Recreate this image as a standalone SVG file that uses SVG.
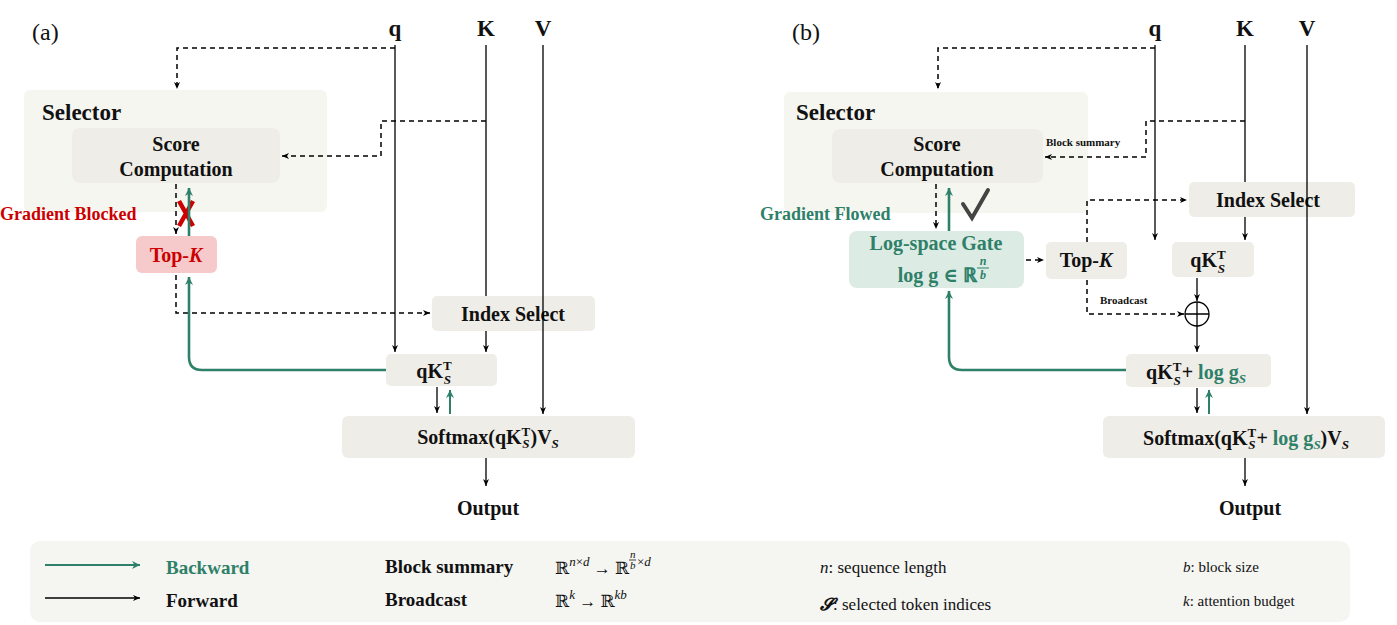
<svg xmlns="http://www.w3.org/2000/svg" width="1397" height="625" viewBox="0 0 1397 625">
<defs>
<marker id="ab" markerWidth="8" markerHeight="8" refX="7" refY="4" orient="auto" markerUnits="userSpaceOnUse"><path d="M0,1 L7,4 L0,7 L2,4 Z" fill="#000"/></marker>
<marker id="ag" markerWidth="10" markerHeight="10" refX="8" refY="5" orient="auto" markerUnits="userSpaceOnUse"><path d="M0,1 L8,5 L0,9 L2.5,5 Z" fill="#2e8068"/></marker>
<style>
text{font-family:"Liberation Serif","DejaVu Serif",serif;font-weight:bold;fill:#111}
.t{font-size:20px;text-anchor:middle}
.h{font-size:23px}
.g{fill:#2e8068}
.r{fill:#cc0000}
.s{font-size:11px}
.n{font-weight:normal;font-size:17px}
.box{fill:#efede7}
.f{fill:none;stroke:#000;stroke-width:1.3}
.d{fill:none;stroke:#000;stroke-width:1.5;stroke-dasharray:5,4}
.gr{fill:none;stroke:#2e8068;stroke-width:2.6}
</style>
</defs>
<rect x="30" y="541" width="1320" height="81" rx="10" fill="#f5f5f2"/>
<g id="panel-a">
<text x="32" y="40" style="font-weight:normal;font-size:24px">(a)</text>
<text x="395" y="36" class="h" text-anchor="middle">q</text>
<text x="486" y="36" class="h" text-anchor="middle">K</text>
<text x="543" y="36" class="h" text-anchor="middle">V</text>
<g id="selector-a"><rect x="24" y="90" width="303" height="122" rx="6" fill="#f6f6f1"/><text x="42" y="120" class="h">Selector</text></g>
<g id="score-a"><rect class="box" x="72" y="128" width="208" height="55" rx="8"/><text class="t" x="176" y="151">Score</text><text class="t" x="176" y="176">Computation</text></g>
<g id="topk-a"><rect x="136" y="236" width="81" height="37" rx="6" fill="#f6caca"/><text class="t r" x="176" y="262">Top-<tspan font-style="italic">K</tspan></text></g>
<g id="index-a"><rect class="box" x="432" y="296" width="163" height="35" rx="5"/><text class="t" x="513" y="321">Index  Select</text></g>
<g id="qk-a"><rect class="box" x="386" y="354" width="111" height="32" rx="5"/><text class="t" x="434" y="378">qK<tspan font-size="13" dy="-8">T</tspan><tspan font-size="13" font-style="italic" dx="-8" dy="14">S</tspan></text></g>
<g id="softmax-a"><rect class="box" x="342" y="416" width="293" height="42" rx="6"/><text class="t" x="488" y="444">Softmax(qK<tspan font-size="13" dy="-8">T</tspan><tspan font-size="13" font-style="italic" dx="-8" dy="12">S</tspan><tspan dx="1" dy="-4">)V</tspan><tspan font-size="13" font-style="italic" dy="4">S</tspan></text></g>
<g id="output-a"><text class="t" x="488" y="515">Output</text></g>
<text x="0" y="220" class="r" style="font-size:18px">Gradient  Blocked</text>
<path d="M179,201 L193,226 M193,201 L179,226" stroke="#cc0000" stroke-width="4.5" fill="none"/>
</g>
<g id="panel-b">
<text x="792" y="40" style="font-weight:normal;font-size:24px">(b)</text>
<text x="1155" y="36" class="h" text-anchor="middle">q</text>
<text x="1245" y="36" class="h" text-anchor="middle">K</text>
<text x="1307" y="36" class="h" text-anchor="middle">V</text>
<g id="selector-b"><rect x="784" y="92" width="304" height="121" rx="6" fill="#f6f6f1"/><text x="796" y="120" class="h">Selector</text></g>
<g id="score-b"><rect class="box" x="832" y="129" width="211" height="54" rx="8"/><text class="t" x="937" y="151">Score</text><text class="t" x="937" y="176">Computation</text></g>
<g id="gate-b"><rect x="849" y="231" width="175" height="57" rx="8" fill="#dcebe4"/><text class="t g" x="936" y="250">Log-space Gate</text><text class="g" style="font-size:20px;text-anchor:end" x="977" y="282">log g ∈ ℝ</text><text class="g" style="font-size:12px;font-style:italic;text-anchor:middle" x="983" y="265">n</text><line x1="977" y1="268" x2="989" y2="268" stroke="#2e8068" stroke-width="1"/><text class="g" style="font-size:12px;font-style:italic;text-anchor:middle" x="983" y="279">b</text></g>
<g id="topk-b"><rect class="box" x="1046" y="242" width="81" height="37" rx="5"/><text class="t" x="1086" y="267">Top-<tspan font-style="italic">K</tspan></text></g>
<g id="index-b"><rect class="box" x="1189" y="182" width="166" height="35" rx="5"/><text class="t" x="1268" y="207">Index  Select</text></g>
<g id="qk-b"><rect class="box" x="1172" y="242" width="82" height="35" rx="5"/><text class="t" x="1208" y="267">qK<tspan font-size="13" dy="-8">T</tspan><tspan font-size="13" font-style="italic" dx="-8" dy="14">S</tspan></text></g>
<g id="plus-b"><circle cx="1197" cy="314" r="12" fill="none" stroke="#000" stroke-width="1.3"/><path d="M1185,314 H1209 M1197,302 V326" stroke="#000" stroke-width="1.3"/></g>
<g id="qklog-b"><rect class="box" x="1126" y="354" width="145" height="33" rx="5"/><text class="t" x="1196" y="379">qK<tspan font-size="13" dy="-8">T</tspan><tspan font-size="13" font-style="italic" dx="-8" dy="14">S</tspan><tspan dx="1" dy="-6">+ </tspan><tspan class="g">log g<tspan font-size="13" font-style="italic" dy="4">S</tspan></tspan></text></g>
<g id="softmax-b"><rect class="box" x="1103" y="416" width="282" height="42" rx="6"/><text class="t" x="1246" y="445">Softmax(qK<tspan font-size="13" dy="-8">T</tspan><tspan font-size="13" font-style="italic" dx="-8" dy="12">S</tspan><tspan dx="1" dy="-4">+ </tspan><tspan class="g">log g<tspan font-size="13" font-style="italic" dy="4">S</tspan></tspan><tspan dy="-4">)V</tspan><tspan font-size="13" font-style="italic" dy="4">S</tspan></text></g>
<g id="output-b"><text class="t" x="1250" y="515">Output</text></g>
<text x="760" y="220" class="g" style="font-size:18px">Gradient  Flowed</text>
<path d="M963,204 L972,218 L988,190" stroke="#444" stroke-width="4" fill="none" stroke-linecap="round"/>
<text x="1046" y="146" class="s">Block summary</text>
<text x="1100" y="304" class="s">Broadcast</text>
</g>
<g id="connectors">
<path class="f" d="M395,45 V352" marker-end="url(#ab)"/>
<path class="f" d="M486,45 V296 M486,331 V352" marker-end="url(#ab)"/>
<path class="f" d="M543,45 V414" marker-end="url(#ab)"/>
<path class="d" d="M395,48 H177 V89" marker-end="url(#ab)"/>
<path class="d" d="M486,121 H381 V156 H282" marker-end="url(#ab)"/>
<path class="d" d="M176,184 V234" marker-end="url(#ab)"/>
<path class="d" d="M176,275 V313 H430" marker-end="url(#ab)"/>
<path class="gr" d="M189,236 V188" marker-end="url(#ag)"/>
<path class="gr" d="M386,370 H202 Q189,370 189,357 V277" marker-end="url(#ag)"/>
<path class="f" d="M437,387 V413" marker-end="url(#ab)"/>
<path class="gr" style="stroke-width:2" d="M450,414 V390" marker-end="url(#ag)"/>
<path class="f" d="M486,458 V486" marker-end="url(#ab)"/>
<path class="f" d="M1155,45 V240" marker-end="url(#ab)"/>
<path class="f" d="M1245,45 V182 M1245,217 V240" marker-end="url(#ab)"/>
<path class="f" d="M1307,45 V414" marker-end="url(#ab)"/>
<path class="d" d="M1155,48 H938 V89" marker-end="url(#ab)"/>
<path class="d" d="M1245,121 H1146 V157 H1045" marker-end="url(#ab)"/>
<path class="d" d="M936,184 V229" marker-end="url(#ab)"/>
<path class="gr" d="M949,231 V188" marker-end="url(#ag)"/>
<path class="d" d="M1026,260 H1044" marker-end="url(#ab)"/>
<path class="d" d="M1087,242 V200 H1187" marker-end="url(#ab)"/>
<path class="d" d="M1087,280 V314 H1184" marker-end="url(#ab)"/>
<path class="f" d="M1197,278 V301" marker-end="url(#ab)"/>
<path class="f" d="M1197,326 V352" marker-end="url(#ab)"/>
<path class="gr" d="M1126,370 H962 Q949,370 949,357 V291" marker-end="url(#ag)"/>
<path class="f" d="M1197,388 V413" marker-end="url(#ab)"/>
<path class="gr" style="stroke-width:2" d="M1209,414 V390" marker-end="url(#ag)"/>
<path class="f" d="M1245,458 V486" marker-end="url(#ab)"/>
</g>
<g id="legend">
<path d="M45,565 H140" stroke="#2e8068" stroke-width="2" marker-end="url(#ag)"/>
<path d="M45,598 H140" stroke="#000" stroke-width="1.5" marker-end="url(#ab)"/>
<text x="166" y="574" class="g" style="font-size:19px">Backward</text>
<text x="166" y="607" style="font-size:19px">Forward</text>
<text x="385" y="573" style="font-size:19px">Block summary</text>
<text x="385" y="606" style="font-size:19px">Broadcast</text>
<text x="555" y="574" class="n">ℝ<tspan font-size="13" font-style="italic" dy="-8">n</tspan><tspan font-size="13">×</tspan><tspan font-size="13" font-style="italic">d</tspan><tspan dy="8"> → ℝ</tspan></text>
<text x="630" y="558" class="n" style="font-size:11px;font-style:italic">n</text>
<line x1="629" y1="560" x2="636" y2="560" stroke="#111" stroke-width="0.8"/>
<text x="630" y="569" class="n" style="font-size:11px;font-style:italic">b</text>
<text x="637" y="566" class="n" style="font-size:13px">×<tspan font-style="italic">d</tspan></text>
<text x="555" y="607" class="n">ℝ<tspan font-size="13" font-style="italic" dy="-8">k</tspan><tspan dy="8"> → ℝ</tspan><tspan font-size="13" font-style="italic" dy="-8">kb</tspan></text>
<text x="820" y="573" class="n"><tspan font-style="italic">n</tspan>: sequence length</text>
<text x="820" y="610" class="n"><tspan font-style="italic" font-weight="bold">𝓢</tspan>: selected token indices</text>
<text x="1183" y="572" class="n" style="font-size:15px"><tspan font-style="italic">b</tspan>: block size</text>
<text x="1183" y="606" class="n" style="font-size:15px"><tspan font-style="italic">k</tspan>: attention budget</text>
</g>
</svg>
